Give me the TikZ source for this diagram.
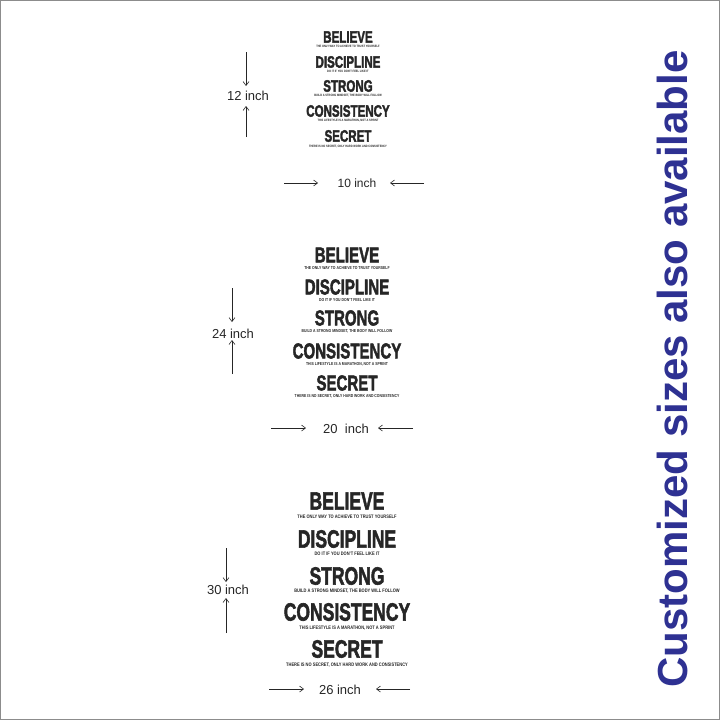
\documentclass[tikz,border=0pt]{standalone}
\usepackage{fontspec}
\setmainfont{Liberation Sans}
\newfontfamily\heavy[FakeBold=2.5]{Liberation Sans Bold}
\usetikzlibrary{arrows.meta}
\definecolor{navy}{HTML}{2E3192}
\begin{document}
\begin{tikzpicture}[x=1pt,y=-1pt,
  ttl/.style={font=\fontsize{#1}{#1}\selectfont\heavy, xscale=0.7, inner sep=0, text=black!85},
  sub/.style={font=\fontsize{#1}{#1}\selectfont\bfseries, xscale=0.8, inner sep=0, text=black!85},
  lab/.style={font=\fontsize{#1}{#1}\selectfont, inner sep=0, text=black!85},
  arr/.style={-{Straight Barb[length=4pt,width=6pt]}, line width=0.6pt, black!85}]
\draw[black!45, line width=1pt] (0.5,0.5) rectangle (719.5,719.5);
\useasboundingbox (0,0) rectangle (720,720);
% block 1
\node[ttl=16.5] (b1) at (348,37) {BELIEVE};
\node[sub=3.2] (b1s) at (348,46.5) {THE ONLY WAY TO ACHIEVE TO TRUST YOURSELF};
\node[ttl=16.5] (d1) at (348,62) {DISCIPLINE};
\node[sub=3.2] (d1s) at (348,71.5) {DO IT IF YOU DON'T FEEL LIKE IT};
\node[ttl=16.5] (s1) at (348,86) {STRONG};
\node[sub=3.2] (s1s) at (348,96) {BUILD A STRONG MINDSET, THE BODY WILL FOLLOW};
\node[ttl=16.5] (c1) at (348,111) {CONSISTENCY};
\node[sub=3.2] (c1s) at (348,120.5) {THIS LIFESTYLE IS A MARATHON, NOT A SPRINT};
\node[ttl=16.5] (e1) at (348,136) {SECRET};
\node[sub=3.2] (e1s) at (348,146.5) {THERE IS NO SECRET, ONLY HARD WORK AND CONSISTENCY};
\node[lab=13] (v1) at (248,96) {12 inch};
\coordinate (v1a) at (246,52); \coordinate (v1b) at (246,86);
\coordinate (v1c) at (246,137); \coordinate (v1d) at (246,106);
\draw[arr] (v1a) -- (v1b); \draw[arr] (v1c) -- (v1d);
\node[lab=12] (h1) at (357,183) {10 inch};
\coordinate (h1a) at (284,183); \coordinate (h1b) at (318,183);
\coordinate (h1c) at (424,183); \coordinate (h1d) at (390,183);
\draw[arr] (h1a) -- (h1b); \draw[arr] (h1c) -- (h1d);
% block 2
\node[ttl=21.5] (b2) at (347,255) {BELIEVE};
\node[sub=4.3] (b2s) at (347,268) {THE ONLY WAY TO ACHIEVE TO TRUST YOURSELF};
\node[ttl=21.5] (d2) at (347,287) {DISCIPLINE};
\node[sub=4.3] (d2s) at (347,300) {DO IT IF YOU DON'T FEEL LIKE IT};
\node[ttl=21.5] (s2) at (347,318) {STRONG};
\node[sub=4.3] (s2s) at (347,331) {BUILD A STRONG MINDSET, THE BODY WILL FOLLOW};
\node[ttl=21.5] (c2) at (347,351) {CONSISTENCY};
\node[sub=4.3] (c2s) at (347,364) {THIS LIFESTYLE IS A MARATHON, NOT A SPRINT};
\node[ttl=21.5] (e2) at (347,383) {SECRET};
\node[sub=4.3] (e2s) at (347,396) {THERE IS NO SECRET, ONLY HARD WORK AND CONSISTENCY};
\node[lab=13] (v2) at (233,334) {24 inch};
\coordinate (v2a) at (232,288); \coordinate (v2b) at (232,322);
\coordinate (v2c) at (232,374); \coordinate (v2d) at (232,340);
\draw[arr] (v2a) -- (v2b); \draw[arr] (v2c) -- (v2d);
\node[lab=13] (h2) at (346,429) {20\ \ inch};
\coordinate (h2a) at (271,428); \coordinate (h2b) at (306,428);
\coordinate (h2c) at (413,428); \coordinate (h2d) at (378,428);
\draw[arr] (h2a) -- (h2b); \draw[arr] (h2c) -- (h2d);
% block 3
\node[ttl=25] (b3) at (347,501) {BELIEVE};
\node[sub=5] (b3s) at (347,517) {THE ONLY WAY TO ACHIEVE TO TRUST YOURSELF};
\node[ttl=25] (d3) at (347,539) {DISCIPLINE};
\node[sub=5] (d3s) at (347,554) {DO IT IF YOU DON'T FEEL LIKE IT};
\node[ttl=25] (s3) at (347,576) {STRONG};
\node[sub=5] (s3s) at (347,591) {BUILD A STRONG MINDSET, THE BODY WILL FOLLOW};
\node[ttl=25] (c3) at (347,612) {CONSISTENCY};
\node[sub=5] (c3s) at (347,628) {THIS LIFESTYLE IS A MARATHON, NOT A SPRINT};
\node[ttl=25] (e3) at (347,649) {SECRET};
\node[sub=5] (e3s) at (347,665) {THERE IS NO SECRET, ONLY HARD WORK AND CONSISTENCY};
\node[lab=13] (v3) at (228,590) {30 inch};
\coordinate (v3a) at (226,548); \coordinate (v3b) at (226,582);
\coordinate (v3c) at (226,633); \coordinate (v3d) at (226,598);
\draw[arr] (v3a) -- (v3b); \draw[arr] (v3c) -- (v3d);
\node[lab=13] (h3) at (340,690) {26 inch};
\coordinate (h3a) at (269,689); \coordinate (h3b) at (304,689);
\coordinate (h3c) at (410,689); \coordinate (h3d) at (376,689);
\draw[arr] (h3a) -- (h3b); \draw[arr] (h3c) -- (h3d);
% side text
\node[rotate=90, font=\fontsize{42}{42}\selectfont\bfseries, text=navy, inner sep=0] (side) at (672,369) {Customized sizes also available};
\end{tikzpicture}
\end{document}
